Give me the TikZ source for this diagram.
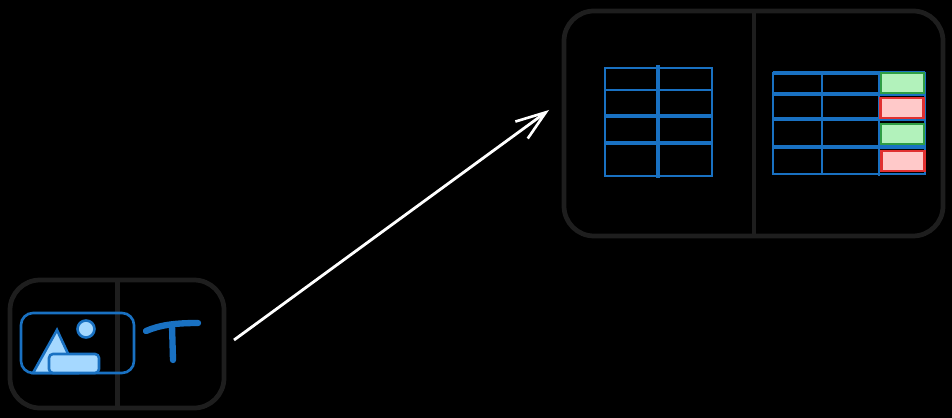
\documentclass[tikz,border=0pt]{standalone}
\usetikzlibrary{arrows.meta}
\definecolor{boxline}{HTML}{1E1E1E}
\definecolor{tblue}{HTML}{1971C2}
\definecolor{lblue}{HTML}{A5D8FF}
\definecolor{okfill}{HTML}{B2F2BB}
\definecolor{okline}{HTML}{2F9E44}
\definecolor{badfill}{HTML}{FFC9C9}
\definecolor{badline}{HTML}{E03131}
\tikzset{
  panel/.style={draw=boxline, line width=2.7pt, rounded corners=0.6cm},
  divider/.style={draw=boxline, line width=2.5pt},
  grid line/.style={draw=tblue, line width=1.4pt},
  thick line/.style={draw=tblue, line width=2pt},
  okcell/.style={draw=okline, fill=okfill, line width=1.5pt},
  badcell/.style={draw=badline, fill=badfill, line width=1.7pt},
  icon/.style={draw=tblue, fill=lblue, line width=1.5pt},
}
\begin{document}
\begin{tikzpicture}[x=0.02cm, y=-0.02cm, >={Straight Barb[length=0.6cm, width=0.42cm, line width=1.5pt]}]
\useasboundingbox (0,0) rectangle (952,418);
\fill[black] (0,0) rectangle (952,418);

% left panel
\draw[panel] (10,280) rectangle (224,408);
\draw[divider] (117.5,281)--(117.5,407);

% picture icon
\draw[draw=tblue, line width=1.5pt, rounded corners=0.24cm] (21,313) rectangle (134,373);
\draw[icon] (33,373)--(57,330)--(77,373)--cycle;
\draw[icon] (86,329) circle (8.5);
\draw[icon, rounded corners=0.08cm] (49,354) rectangle (99,373);

% letter
\draw[tblue, line width=3.6pt, line cap=round] (146,331) .. controls (160,325) and (175,323) .. (198,323);
\draw[tblue, line width=3.6pt, line cap=round] (172,325)--(173,360);

% right panel
\draw[panel] (564,11) rectangle (943,236);
\draw[divider] (754,12)--(754,235);

% first table
\draw[grid line] (605,68) rectangle (712,176);
\draw[grid line] (605,90)--(713,90);
\draw[thick line] (604,116)--(712,116);
\draw[thick line] (605,143)--(712,143);
\draw[thick line] (658,65)--(658,178);

% second table
\draw[grid line] (773,73) rectangle (925,174);
\draw[thick line] (773,73)--(925,73);
\foreach \y in {94,119,147}
  \draw[thick line] (773,\y)--(925,\y);
\draw[grid line] (822,71)--(822,175);
\draw[grid line] (879,72)--(879,176);

% result cells
\draw[okcell] (881,73) rectangle (924,93);
\draw[badcell] (880,98) rectangle (923,118);
\draw[okcell] (881,124) rectangle (924,144);
\draw[badcell] (881,151) rectangle (924,171);

% arrow
\coordinate (start) at (234,340);
\coordinate (end) at (549,110);
\draw[->, white, line width=1.6pt] (start)--(end);
\end{tikzpicture}
\end{document}
